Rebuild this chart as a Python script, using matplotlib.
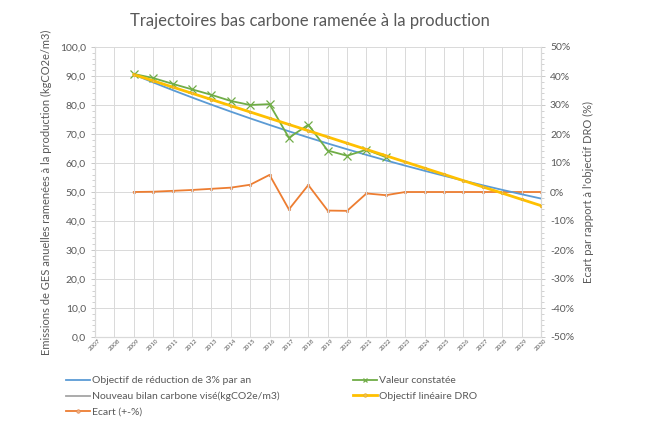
import matplotlib
matplotlib.use("Agg")
import matplotlib.pyplot as plt
import numpy as np
from matplotlib.ticker import FuncFormatter, MultipleLocator

plt.rcParams['font.family'] = ['Lato', 'DejaVu Sans']

years = list(range(2007, 2031))
series_years = list(range(2009, 2031))

objectif_3pct = [90.5, 87.79, 85.15, 82.60, 80.12, 77.72, 75.39, 73.13, 70.93, 68.80,
                 66.74, 64.74, 62.80, 60.91, 59.08, 57.31, 55.59, 53.93, 52.31, 50.74,
                 49.22, 47.74]
objectif_lineaire = [90.5, 88.35, 86.19, 84.04, 81.89, 79.74, 77.59, 75.43, 73.28, 71.13,
                     68.98, 66.82, 64.67, 62.52, 60.37, 58.21, 56.06, 53.91, 51.76, 49.61,
                     47.45, 45.3]
valeur_years = list(range(2009, 2023))
valeur_constatee = [90.7, 89.3, 87.3, 85.4, 83.5, 81.4, 80.0, 80.3, 68.7, 73.2,
                    64.3, 62.5, 64.6, 62.0]
nouveau_bilan = []
ecart_pct = [0.0, 0.1, 0.4, 0.7, 1.1, 1.5, 2.5, 5.9, -6.0, 2.4, -6.4, -6.5, -0.5, -1.1,
             0.0, 0.0, 0.0, 0.0, 0.0, 0.0, 0.0, 0.0]

BLUE = '#5B9BD5'
ORANGE = '#ED7D31'
GRAY = '#A5A5A5'
YELLOW = '#FFC000'
GREEN = '#70AD47'
TXT = '#595959'

fig = plt.figure(figsize=(6.45, 4.30), dpi=100)
ax = fig.add_axes([95/645, 1-337/430, (541-95)/645, (337-47)/430])
ax2 = ax.twinx()

xi = {y: i for i, y in enumerate(years)}
sx = [xi[y] for y in series_years]
vx = [xi[y] for y in valeur_years]

l1, = ax.plot(sx, objectif_3pct, color=BLUE, lw=1.3, zorder=3)
l2, = ax.plot(nouveau_bilan, nouveau_bilan, color=GRAY, lw=1.3)
l4, = ax.plot(vx, valeur_constatee, color=GREEN, lw=1.3, marker='x', ms=6, mew=0.9, zorder=4)
l5, = ax.plot(sx, objectif_lineaire, color=YELLOW, lw=2.0, marker='o', ms=1.8,
              mfc='#F2C14E', mec='#E8B020', mew=0.5, zorder=5)
l3, = ax2.plot(sx, ecart_pct, color=ORANGE, lw=1.3, marker='o', ms=1.8,
               mfc='#F4B183', mec='#E08850', mew=0.5, zorder=3)

ax.set_xlim(0, len(years) - 1)
ax.set_ylim(0, 100)
ax2.set_ylim(-50, 50)
ax.set_xticks(range(len(years)))
ax.set_xticklabels([str(y) for y in years], rotation=45, fontsize=4.5, color=TXT)
ax.yaxis.set_major_locator(MultipleLocator(10))
ax.yaxis.set_minor_locator(MultipleLocator(2))
ax2.yaxis.set_major_locator(MultipleLocator(10))
ax2.yaxis.set_minor_locator(MultipleLocator(2))
ax.yaxis.set_major_formatter(FuncFormatter(lambda v, p: f"{v:.1f}".replace('.', ',')))
ax2.yaxis.set_major_formatter(FuncFormatter(lambda v, p: f"{int(round(v))}%"))

for a in (ax, ax2):
    a.tick_params(axis='y', labelsize=7.5, colors=TXT, length=3, width=0.6, color='#BFBFBF')
    a.tick_params(axis='y', which='minor', length=2, width=0.5, color='#BFBFBF')
    for s in a.spines.values():
        s.set_color('#D9D9D9')
        s.set_linewidth(0.8)
    a.spines['top'].set_visible(False)
ax.tick_params(axis='x', length=0, pad=1, colors=TXT)
ax.grid(True, axis='x', color='#D9D9D9', lw=0.7)
ax2.grid(True, axis='y', color='#D9D9D9', lw=0.7)
ax.set_axisbelow(True)
ax2.set_axisbelow(True)
ax.set_zorder(ax2.get_zorder() + 1)
ax.patch.set_visible(False)

ax.set_ylabel("Emissions de GES anuelles ramenées à la production (kgCO2e/m3)",
              fontsize=8, color=TXT, labelpad=6)
ax2.set_ylabel("Ecart par rapport à l'objectif DRO (%)", fontsize=8, color=TXT, labelpad=6)

fig.text(310/645, 1-21/430, "Trajectoires bas carbone ramenée à la production",
         ha='center', va='center', fontsize=12, color=TXT)

leg_kw = dict(loc='upper left', frameon=False, fontsize=7.5, handlelength=2.3,
              handletextpad=0.2, labelspacing=0.6, labelcolor=TXT, borderaxespad=0)
leg1 = fig.legend([l1, l2, l3],
                  ["Objectif de réduction de 3% par an",
                   "Nouveau bilan carbone visé(kgCO2e/m3)",
                   "Ecart (+-%)"],
                  bbox_to_anchor=(62/645, 1-372/430), **leg_kw)
leg2 = fig.legend([l4, l5], ["Valeur constatée", "Objectif linéaire DRO"],
                  bbox_to_anchor=(349/645, 1-372/430), **leg_kw)
for h in leg1.legend_handles + leg2.legend_handles:
    h.set_markersize(2.5)

fig.savefig("out.png", dpi=100)
